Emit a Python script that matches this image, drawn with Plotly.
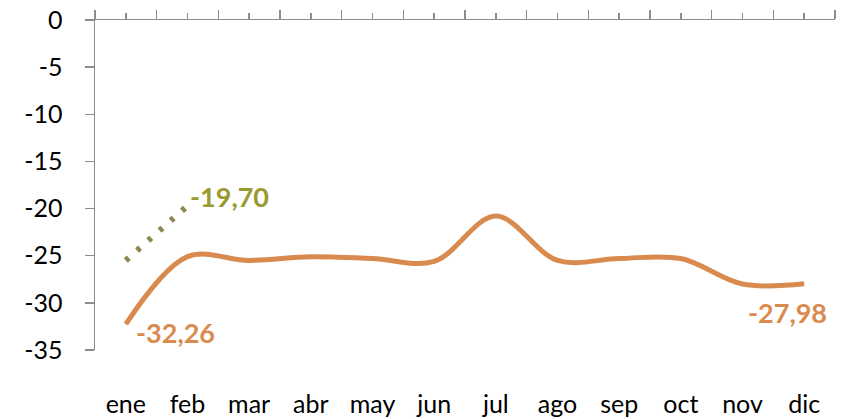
import plotly.graph_objects as go

months = ["ene", "feb", "mar", "abr", "may", "jun", "jul", "ago", "sep", "oct", "nov", "dic"]
serie_actual = [-32.26, -25.1, -25.5, -25.1, -25.3, -25.6, -20.8, -25.5, -25.3, -25.3, -28.0, -27.98]
serie_nueva = [-25.5, -19.70]
y_ticks = [0, -5, -10, -15, -20, -25, -30, -35]

ORANGE = "#D98B4F"
OLIVE_DOT = "#8E8750"
OLIVE_TXT = "#9A9A32"
AXIS = "#8C8C8C"
FONT = "Lato"

x_all = list(range(len(months)))

def fmt(v):
    return f"{v:.2f}".replace(".", ",")

fig = go.Figure()
fig.add_trace(go.Scatter(
    x=x_all, y=serie_actual, mode="lines",
    line=dict(color=ORANGE, width=5, shape="spline", smoothing=1.0),
    hoverinfo="skip", showlegend=False))
fig.add_trace(go.Scatter(
    x=x_all[:len(serie_nueva)], y=serie_nueva, mode="lines",
    line=dict(color=OLIVE_DOT, width=6, dash="4px,11px"),
    hoverinfo="skip", showlegend=False))
# invisible trace to activate the top axis
fig.add_trace(go.Scatter(x=[x_all[0]], y=[0], xaxis="x2", mode="markers",
                         marker=dict(opacity=0), hoverinfo="skip", showlegend=False))

fig.add_annotation(x=x_all[0], y=serie_actual[0], text="<b>" + fmt(serie_actual[0]) + "</b>",
                   showarrow=False, xanchor="left", yanchor="middle", xshift=8, yshift=-8,
                   font=dict(family=FONT, size=27, color=ORANGE))
fig.add_annotation(x=x_all[len(serie_nueva) - 1], y=serie_nueva[-1], text="<b>" + fmt(serie_nueva[-1]) + "</b>",
                   showarrow=False, xanchor="left", yanchor="middle", xshift=0, yshift=9,
                   font=dict(family=FONT, size=27, color=OLIVE_TXT))
fig.add_annotation(x=x_all[-1], y=serie_actual[-1], text="<b>" + fmt(serie_actual[-1]) + "</b>",
                   showarrow=False, xanchor="center", yanchor="top", xshift=-17, yshift=-10,
                   font=dict(family=FONT, size=27, color=ORANGE))

bounds = [i - 0.5 for i in range(len(months) + 1)]

fig.update_layout(
    width=841, height=419,
    margin=dict(l=95, r=6, t=20, b=69, autoexpand=False),
    paper_bgcolor="white", plot_bgcolor="white",
    font=dict(family=FONT, size=25, color="#000000"),
    hovermode=False,
    xaxis=dict(range=[-0.5, len(months) - 0.5], tickmode="array", tickvals=x_all, ticktext=months,
               showline=False, showgrid=False, zeroline=False, automargin=False,
               ticks="outside", ticklen=32, tickcolor="rgba(0,0,0,0)",
               tickfont=dict(family=FONT, size=25)),
    xaxis2=dict(range=[-0.5, len(months) - 0.5], overlaying="x", side="top", anchor="y",
                showline=True, linecolor=AXIS, linewidth=1.5, showgrid=False, zeroline=False,
                automargin=False,
                tickmode="array", tickvals=bounds, ticks="outside", ticklen=9, tickwidth=1.5,
                tickcolor=AXIS, showticklabels=False,
                minor=dict(tickmode="array", tickvals=x_all, ticks="outside", ticklen=6,
                           tickwidth=1.5, tickcolor=AXIS)),
    yaxis=dict(range=[-35, 0], tickmode="array", tickvals=y_ticks, ticktext=[str(v) for v in y_ticks],
               showline=True, linecolor=AXIS, linewidth=1.5, showgrid=False, zeroline=False,
               automargin=False, ticklabeloverflow="allow",
               ticks="outside", ticklen=9, tickwidth=1.5, tickcolor=AXIS, ticklabelstandoff=17,
               tickfont=dict(family=FONT, size=25)),
)

fig.write_html("out.html", config={"displayModeBar": False, "staticPlot": True},
               post_script="document.body.style.margin='0px'; document.body.style.overflow='hidden';")
